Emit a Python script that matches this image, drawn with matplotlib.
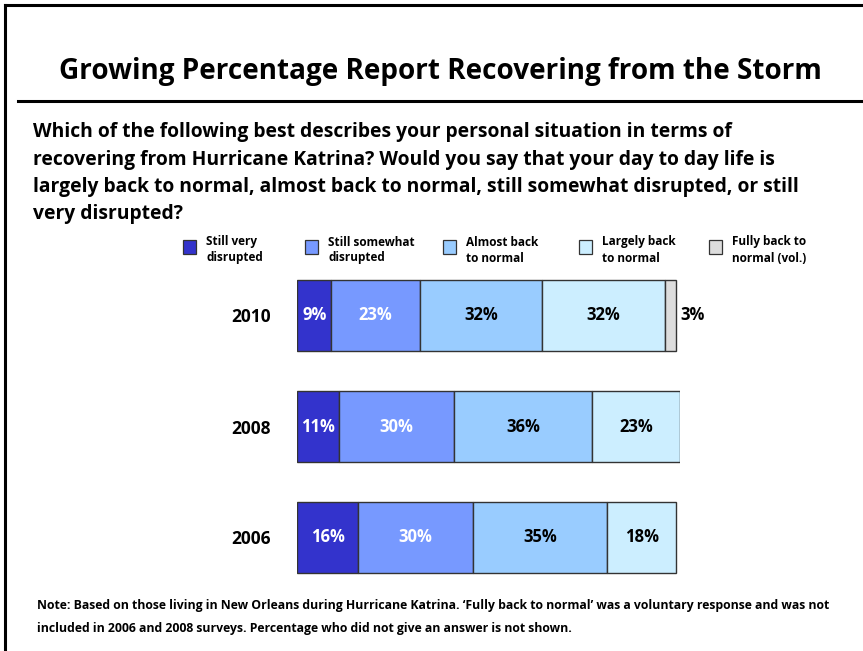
import matplotlib.pyplot as plt
import numpy as np
from matplotlib.lines import Line2D
from matplotlib.patches import Rectangle

plt.rcParams['font.family'] = ['Open Sans', 'DejaVu Sans']
plt.rcParams['font.weight'] = 'bold'

years = ['2010', '2008', '2006']
categories = ['Still very\ndisrupted', 'Still somewhat\ndisrupted', 'Almost back\nto normal',
              'Largely back\nto normal', 'Fully back to\nnormal (vol.)']
very_disrupted = [9, 11, 16]
somewhat_disrupted = [23, 30, 30]
almost_normal = [32, 36, 35]
largely_normal = [32, 23, 18]
fully_normal = [3, 0, 0]

colors = ['#3333cc', '#7799ff', '#99ccff', '#cceeff', '#dddddd']
text_colors = ['white', 'white', 'black', 'black', 'black']

W, H = 863, 651
fig = plt.figure(figsize=(W / 100, H / 100), dpi=100)


def px(x, y):
    return x / W, 1 - y / H


# frame and title rule
fig.add_artist(Line2D([5 / W, 5 / W], [0, 1 - 5 / H], color='black', lw=2.2))
fig.add_artist(Line2D([5 / W, 1], [1 - 5 / H, 1 - 5 / H], color='black', lw=2.2))
fig.add_artist(Line2D([18 / W, 1], [1 - 101 / H, 1 - 101 / H], color='black', lw=2.2))

fig.text(*px(440, 72), 'Growing Percentage Report Recovering from the Storm',
         ha='center', va='center', fontsize=20.1, fontweight='bold')

question = ('Which of the following best describes your personal situation in terms of\n'
            'recovering from Hurricane Katrina? Would you say that your day to day life is\n'
            'largely back to normal, almost back to normal, still somewhat disrupted, or still\n'
            'very disrupted?')
fig.text(*px(33, 122), question, ha='left', va='top', fontsize=13.9,
         fontweight='bold', linespacing=1.5)

fig.text(*px(37, 599), "Note: Based on those living in New Orleans during Hurricane Katrina. \u2018Fully back to normal\u2019 "
         "was a voluntary response and was not\nincluded in 2006 and 2008 surveys. Percentage who did not give "
         "an answer is not shown.", ha='left', va='top', fontsize=8.8, fontweight='bold', linespacing=2.0)

# legend
legend_x = [190, 312, 450, 586, 716]
for lx, label, c in zip(legend_x, categories, colors):
    fig.add_artist(Rectangle(px(lx - 7, 254), 13 / W, 14 / H, facecolor=c,
                             edgecolor='#333333', lw=0.9, transform=fig.transFigure))
    fig.text(*px(lx + 16, 250), label, ha='left', va='center', fontsize=8.5,
             fontweight='bold', linespacing=1.3)

# bars
ax = fig.add_axes([297 / W, 1 - 593 / H, 383 / W, 333 / H])
series = [very_disrupted, somewhat_disrupted, almost_normal, largely_normal, fully_normal]
y = np.arange(len(years))
left = np.zeros(len(years))
for vals, c, tc in zip(series, colors, text_colors):
    vals = np.array(vals, dtype=float)
    mask = vals > 0
    ax.barh(y[mask], vals[mask], left=left[mask], height=0.64, color=c,
            edgecolor='#333333', linewidth=1.0)
    for yi, v, l in zip(y[mask], vals[mask], left[mask]):
        if v >= 5:
            ax.text(l + v / 2, yi, f'{int(v)}%', ha='center', va='center',
                    color=tc, fontsize=12, fontweight='bold')
        else:
            ax.text(l + v + 1.0, yi, f'{int(v)}%', ha='left', va='center',
                    color='black', fontsize=12, fontweight='bold')
    left += vals

ax.set_xlim(0, 100)
ax.set_ylim(len(years) - 0.5, -0.5)
ax.set_yticks(y)
ax.set_yticklabels(years, fontsize=12.5, fontweight='bold')
ax.tick_params(axis='y', length=0, pad=19)
ax.set_xticks([])
for s in ax.spines.values():
    s.set_visible(False)

fig.savefig('out.png', dpi=100)
